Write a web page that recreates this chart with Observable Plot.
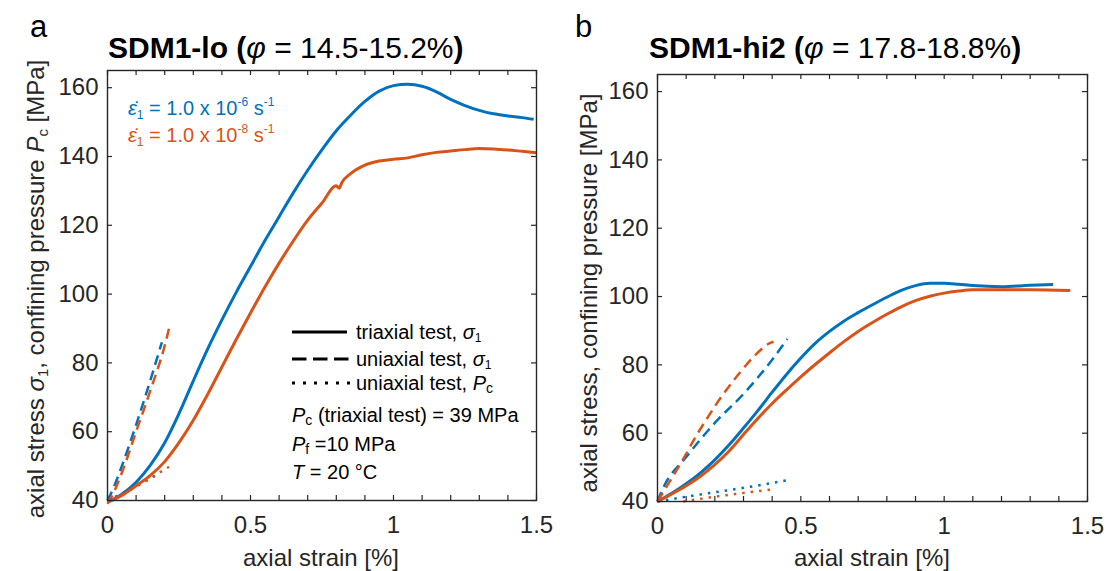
<!DOCTYPE html>
<html><head><meta charset="utf-8">
<script src="https://cdn.jsdelivr.net/npm/d3@7"></script>
<script src="https://cdn.jsdelivr.net/npm/@observablehq/plot@0.6"></script>
<style>
html,body{margin:0;padding:0;background:#fff;}
#wrap{position:relative;width:1106px;height:571px;overflow:hidden;font-family:"Liberation Sans",Arial,sans-serif;}
.panel{position:absolute;top:0;}
#overlay{position:absolute;left:0;top:0;pointer-events:none;}
</style></head><body>
<div id="wrap">
<div class="panel" id="pa" style="left:0px"></div>
<div class="panel" id="pb" style="left:553px"></div>
<svg id="overlay" width="1106" height="571" font-family="Liberation Sans, Arial, sans-serif">
  <text x="30" y="37" font-size="31">a</text>
  <text x="575" y="37" font-size="31">b</text>
  <text x="108" y="58" font-size="30"><tspan font-weight="bold">SDM1-lo (</tspan><tspan font-style="italic">φ</tspan><tspan> = 14.5-15.2%</tspan><tspan font-weight="bold">)</tspan></text>
  <text x="649" y="58" font-size="30"><tspan font-weight="bold">SDM1-hi2 (</tspan><tspan font-style="italic">φ</tspan><tspan> = 17.8-18.8%</tspan><tspan font-weight="bold">)</tspan></text>

  <text x="128" y="115" font-size="20" fill="#0072BD"><tspan font-style="italic">ε&#x307;</tspan><tspan font-size="12" dy="4">1</tspan><tspan dy="-4"> = 1.0 x 10</tspan><tspan font-size="12" dy="-9">-6</tspan><tspan dy="9"> s</tspan><tspan font-size="12" dy="-9">-1</tspan></text>
  <text x="128" y="142" font-size="20" fill="#D95319"><tspan font-style="italic">ε&#x307;</tspan><tspan font-size="12" dy="4">1</tspan><tspan dy="-4"> = 1.0 x 10</tspan><tspan font-size="12" dy="-9">-8</tspan><tspan dy="9"> s</tspan><tspan font-size="12" dy="-9">-1</tspan></text>

  <line x1="292" x2="347" y1="332" y2="332" stroke="#000" stroke-width="3"/>
  <line x1="292" x2="349" y1="359" y2="359" stroke="#000" stroke-width="3" stroke-dasharray="14.5,6.5"/>
  <line x1="292" x2="350" y1="383" y2="383" stroke="#000" stroke-width="3" stroke-dasharray="3,8"/>
  <g font-size="20" fill="#000">
    <text x="356" y="339">triaxial test, <tspan font-style="italic">σ</tspan><tspan font-size="12" dy="3">1</tspan></text>
    <text x="356" y="366">uniaxial test, <tspan font-style="italic">σ</tspan><tspan font-size="12" dy="3">1</tspan></text>
    <text x="356" y="390">uniaxial test, <tspan font-style="italic">P</tspan><tspan font-size="14" dy="3">c</tspan></text>
    <text x="292" y="422"><tspan font-style="italic">P</tspan><tspan font-size="14" dy="3">c</tspan><tspan dy="-3"> (triaxial test) = 39 MPa</tspan></text>
    <text x="292" y="451"><tspan font-style="italic">P</tspan><tspan font-size="14" dy="3">f</tspan><tspan dy="-3"> =10 MPa</tspan></text>
    <text x="292" y="479"><tspan font-style="italic">T</tspan> = 20 °C</text>
  </g>

  <g font-size="24" fill="#262626" text-anchor="middle">
    <text transform="translate(44,289) rotate(-90)">axial stress <tspan font-style="italic">σ</tspan><tspan font-size="15" dy="4">1</tspan><tspan dy="-4">, confining pressure </tspan><tspan font-style="italic">P</tspan><tspan font-size="15" dy="4">c</tspan><tspan dy="-4"> [MPa]</tspan></text>
    <text transform="translate(597,293) rotate(-90)">axial stress, confining pressure [MPa]</text>
    <text x="321" y="566">axial strain [%]</text>
    <text x="872" y="566">axial strain [%]</text>
  </g>
</svg>
</div>
<script>
const BLUE = "#0072BD", ORANGE = "#D95319", AXIS = "#262626";

// ---- tick values ----
const xTickLabels = [0, 0.5, 1, 1.5];
const xMinorTicks = [0,0.1,0.2,0.3,0.4,0.5,0.6,0.7,0.8,0.9,1.0,1.1,1.2,1.3,1.4,1.5];
const yTickLabels = [40, 60, 80, 100, 120, 140, 160];

// ---- panel a: SDM1-lo ----
const aTri6Strain = [0,0.05,0.1,0.15,0.2,0.25,0.3,0.35,0.4,0.45,0.5,0.55,0.6,0.65,0.7,0.75,0.8,0.85,0.9,0.95,1.0,1.05,1.1,1.15,1.2,1.25,1.3,1.35,1.4,1.45,1.49];
const aTri6Stress = [39.5,41.8,45.3,50.3,56.8,65.3,74.8,84,92.5,100.5,108,115.5,122.5,129.5,136,142,147.5,152,156,159,160.6,161,160.4,158.8,156.6,154.8,153.4,152.4,151.8,151.3,150.8];
const aTri8Strain = [0,0.05,0.1,0.15,0.2,0.25,0.3,0.35,0.4,0.45,0.5,0.55,0.6,0.65,0.7,0.75,0.8,0.81,0.82,0.85,0.9,0.95,1.0,1.05,1.1,1.15,1.2,1.25,1.3,1.35,1.4,1.45,1.5];
const aTri8Stress = [39.5,41.5,44.3,47.3,51.3,56.8,63.3,70.8,78.8,86.8,94.5,102,109,115.5,121.5,126.5,131.5,130.8,132.5,135,137.5,138.7,139.2,139.6,140.5,141.2,141.6,142,142.3,142.2,141.9,141.5,141.1];
const aUni6Strain = [0,0.02,0.05,0.1,0.15,0.19];
const aUni6Stress = [40,43.5,50,62,75,86];
const aUni8Strain = [0,0.02,0.05,0.1,0.15,0.2,0.215];
const aUni8Stress = [39,42,48,60,72,85,90];
const aPc6Strain = [0,0.05,0.1,0.17];
const aPc6Stress = [40,42,44.2,47.3];
const aPc8Strain = [0,0.05,0.1,0.15,0.215];
const aPc8Stress = [40,41.8,44,46.5,49.8];

// ---- panel b: SDM1-hi2 ----
const bTri6Strain = [0,0.05,0.1,0.15,0.2,0.25,0.3,0.35,0.4,0.45,0.5,0.55,0.6,0.65,0.7,0.75,0.8,0.85,0.9,0.95,1.0,1.05,1.1,1.2,1.3,1.38];
const bTri6Stress = [40,42.4,45.2,48.4,52.2,56.6,61.5,66.6,72,77.2,82,86.3,89.8,92.8,95.3,97.6,99.8,101.8,103.2,103.9,103.9,103.6,103.2,102.9,103.3,103.5];
const bTri8Strain = [0,0.05,0.1,0.15,0.2,0.25,0.3,0.35,0.4,0.45,0.5,0.55,0.6,0.65,0.7,0.75,0.8,0.85,0.9,0.95,1.0,1.05,1.1,1.2,1.3,1.44];
const bTri8Stress = [40,42.2,44.6,47.4,50.8,54.8,59.6,64.3,68.7,72.7,76.5,80.1,83.5,86.8,89.8,92.4,94.8,97,98.8,100.1,101,101.6,102,102,102,101.8];
const bUni6Strain = [0,0.02,0.1,0.2,0.3,0.4,0.453];
const bUni6Stress = [40,44,53,63,71.5,81.5,87.6];
const bUni8Strain = [0,0.04,0.08,0.13,0.174,0.23,0.29,0.35,0.39,0.405];
const bUni8Stress = [40,45.5,51,58.5,64.5,71.5,78,83.6,86.3,86.8];
const bPc6Strain = [0,0.1,0.2,0.3,0.453];
const bPc6Stress = [40,41.4,42.7,44,46.2];
const bPc8Strain = [0.09,0.2,0.3,0.395];
const bPc8Stress = [40,41.4,42.5,43.5];

const pts = (xs, ys) => xs.map((x, i) => ({x, y: ys[i]}));

function panel(series, m) {
  const W = 553, H = 571;
  const fw = W - m.left - m.right, fh = H - m.top - m.bottom;
  const tickLen = 5;
  const marks = [
    Plot.tickX(xMinorTicks, {x: d => d, insetTop: fh - tickLen, stroke: AXIS, strokeWidth: 1.2}),
    Plot.tickX(xMinorTicks, {x: d => d, insetBottom: fh - tickLen, stroke: AXIS, strokeWidth: 1.2}),
    Plot.tickY(yTickLabels, {y: d => d, insetRight: fw - tickLen, stroke: AXIS, strokeWidth: 1.2}),
    Plot.tickY(yTickLabels, {y: d => d, insetLeft: fw - tickLen, stroke: AXIS, strokeWidth: 1.2}),
    Plot.axisX({ticks: xTickLabels, tickSize: 0, tickPadding: 15, tickFormat: d => String(d), label: null, fontSize: 24, fill: AXIS}),
    Plot.axisY({ticks: yTickLabels, tickSize: 0, tickPadding: 9, tickFormat: d => String(d), label: null, fontSize: 24, fill: AXIS})
  ];
  for (const s of series) {
    marks.push(Plot.line(pts(s.x, s.y), {
      x: "x", y: "y", stroke: s.color,
      strokeWidth: s.style === "solid" ? 3 : 2.5,
      strokeDasharray: s.style === "dash" ? "10,6" : s.style === "dot" ? "2.5,6" : null,
      strokeLinecap: "butt", curve: "monotone-x"
    }));
  }
  marks.push(Plot.frame({stroke: AXIS, strokeWidth: 1.4}));
  return Plot.plot({
    width: W, height: H,
    marginLeft: m.left, marginRight: m.right, marginTop: m.top, marginBottom: m.bottom,
    x: {domain: [0, 1.5]},
    y: {domain: [40, 165]},
    style: {fontFamily: "Liberation Sans, Arial, sans-serif", fontSize: "24px", background: "transparent", overflow: "visible", color: AXIS},
    marks
  });
}

document.getElementById("pa").appendChild(panel([
  {x: aPc6Strain, y: aPc6Stress, color: BLUE, style: "dot"},
  {x: aPc8Strain, y: aPc8Stress, color: ORANGE, style: "dot"},
  {x: aUni6Strain, y: aUni6Stress, color: BLUE, style: "dash"},
  {x: aUni8Strain, y: aUni8Stress, color: ORANGE, style: "dash"},
  {x: aTri6Strain, y: aTri6Stress, color: BLUE, style: "solid"},
  {x: aTri8Strain, y: aTri8Stress, color: ORANGE, style: "solid"}
], {left: 107, right: 17, top: 70, bottom: 71}));

document.getElementById("pb").appendChild(panel([
  {x: bPc6Strain, y: bPc6Stress, color: BLUE, style: "dot"},
  {x: bPc8Strain, y: bPc8Stress, color: ORANGE, style: "dot"},
  {x: bUni6Strain, y: bUni6Stress, color: BLUE, style: "dash"},
  {x: bUni8Strain, y: bUni8Stress, color: ORANGE, style: "dash"},
  {x: bTri6Strain, y: bTri6Stress, color: BLUE, style: "solid"},
  {x: bTri8Strain, y: bTri8Stress, color: ORANGE, style: "solid"}
], {left: 104, right: 19, top: 74, bottom: 70}));
</script>
</body></html>
